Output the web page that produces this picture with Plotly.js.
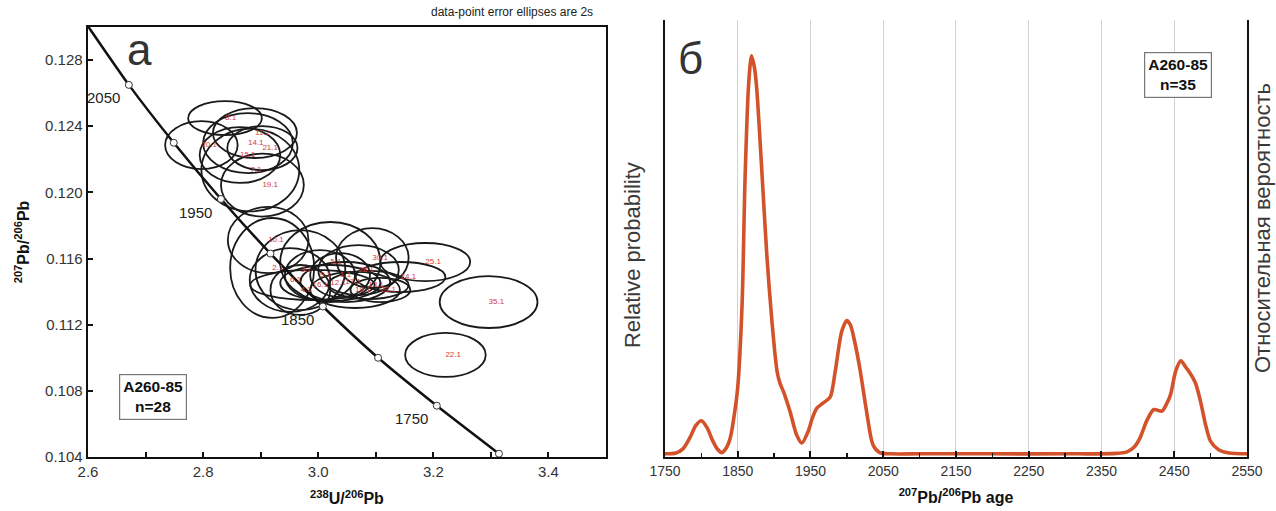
<!DOCTYPE html>
<html>
<head>
<meta charset="utf-8">
<script src="https://cdn.plot.ly/plotly-3.0.1.min.js"></script>
<style>html,body{margin:0;padding:0;background:#fff;}#chart{width:1276px;height:511px;}</style>
</head>
<body>
<div id="chart"></div>
<script>
// ---- Panel а: Tera-Wasserburg concordia, zircon spots (2s error ellipses) ----
const spotLabels = ['8.1','20.1','11.1','14.1','21.1','15.1','7.1','19.1',
  '10.1','2.1','3.1','5.1','30.1','16.1','12.1','17.1','18.1','13.1','9.1','4.1',
  '25.1','24.1','35.1','22.1','6.1','1.1','23.1','26.1'];
const spotU238Pb206 = [2.838,2.797,2.890,2.878,2.903,2.864,2.882,2.903,
  2.913,2.920,2.969,3.021,3.094,2.990,3.021,3.047,3.064,3.087,3.003,2.969,
  3.186,3.143,3.296,3.221,2.951,3.038,3.108,3.070];
const spotPb207Pb206 = [0.12449,0.12286,0.12359,0.12298,0.12268,0.12226,0.12135,0.12044,
  0.11712,0.11543,0.11530,0.11579,0.11603,0.11440,0.11452,0.11458,0.11410,0.11440,0.11500,0.11410,
  0.11579,0.11488,0.11337,0.11017,0.11470,0.11500,0.11410,0.11530];
const spotErrX = [0.064,0.063,0.073,0.078,0.061,0.070,0.085,0.072,
  0.070,0.073,0.078,0.087,0.063,0.108,0.087,0.078,0.078,0.070,0.061,0.052,
  0.078,0.078,0.085,0.070,0.070,0.052,0.052,0.070];
const spotErrY = [0.00103,0.00145,0.00151,0.00181,0.00133,0.00169,0.00250,0.00190,
  0.00200,0.00302,0.00242,0.00242,0.00181,0.00091,0.00109,0.00121,0.00109,0.00085,0.00151,0.00151,
  0.00115,0.00091,0.00157,0.00133,0.00193,0.00133,0.00073,0.00151];

const concordiaAge = [2100,2050,2000,1950,1900,1850,1800,1750,1700];
const concordiaX   = [2.597,2.671,2.749,2.831,2.917,3.008,3.104,3.206,3.314];
const concordiaY   = [0.1302,0.1265,0.1230,0.1196,0.1163,0.1131,0.1100,0.1071,0.1042];
const markedAges   = [2050,2000,1950,1900,1850,1800,1750,1700];
const labelledAges = [2050,1950,1850,1750];

// ---- Panel б: relative probability of 207Pb/206Pb ages ----
const pdfAge = [1750,1765,1775,1785,1792,1800,1808,1815,1822,1828,1835,1840,1846,1850,1856,1860,1865,1869,1873,1876,1883,1890,1897,1904,1908,1913,1922,1931,1938,1947,1953,1959,1968,1977,1984,1993,2000,2005,2010,2018,2027,2036,2045,2060,2100,2200,2300,2370,2385,2395,2403,2412,2422,2433,2440,2445,2452,2459,2465,2470,2479,2486,2493,2500,2511,2525,2550];
const pdfProb = [0.003,0.005,0.016,0.046,0.073,0.086,0.068,0.038,0.015,0.006,0.02,0.045,0.11,0.17,0.38,0.69,0.93,1.0,0.97,0.92,0.715,0.50,0.335,0.21,0.18,0.158,0.108,0.05,0.03,0.06,0.095,0.118,0.131,0.145,0.21,0.31,0.337,0.325,0.29,0.215,0.11,0.025,0.006,0.003,0.003,0.003,0.003,0.004,0.008,0.02,0.043,0.085,0.114,0.11,0.13,0.152,0.21,0.236,0.222,0.21,0.181,0.135,0.076,0.034,0.013,0.005,0.003];

const xTicksPdf = [1750,1850,1950,2050,2150,2250,2350,2450,2550];

const FONT = 'Liberation Sans, Arial, Helvetica, sans-serif';
const markIdx = markedAges.map(a => concordiaAge.indexOf(a));

const traces = [
  { x: concordiaX, y: concordiaY, xaxis:'x', yaxis:'y', mode:'lines', type:'scatter',
    line:{color:'#111', width:2.5, shape:'spline', smoothing:0.6}, hoverinfo:'skip', showlegend:false },
  { x: markIdx.map(i=>concordiaX[i]), y: markIdx.map(i=>concordiaY[i]),
    xaxis:'x', yaxis:'y', mode:'markers', type:'scatter', cliponaxis:false,
    marker:{size:7, color:'#fff', line:{color:'#333', width:1}}, showlegend:false },
  { x: spotU238Pb206, y: spotPb207Pb206, text: spotLabels, xaxis:'x', yaxis:'y',
    mode:'text', type:'scatter', textposition:'middle right',
    textfont:{family:FONT, size:8, color:'#d23c3c'}, showlegend:false },
  { x: pdfAge, y: pdfProb, xaxis:'x2', yaxis:'y2', mode:'lines', type:'scatter',
    line:{color:'#d4522a', width:3.6, shape:'spline', smoothing:0.8}, showlegend:false }
];

const shapes = spotLabels.map((s,i)=>({
  type:'circle', xref:'x', yref:'y', layer:'below',
  x0: spotU238Pb206[i]-spotErrX[i], x1: spotU238Pb206[i]+spotErrX[i],
  y0: spotPb207Pb206[i]-spotErrY[i], y1: spotPb207Pb206[i]+spotErrY[i],
  line:{color:'#1a1a1a', width:1.8}, fillcolor:'rgba(0,0,0,0)'
}));

const annotations = [
  ...labelledAges.map(a=>{const i=concordiaAge.indexOf(a); return {
    x: concordiaX[i], y: concordiaY[i], xref:'x', yref:'y', text:String(a), showarrow:false,
    xshift:-25, yshift:-13, xanchor:'center', yanchor:'middle', font:{family:FONT, size:15, color:'#222'} };}),
  { xref:'x domain', yref:'y domain', x:0.1, y:0.948, xanchor:'center', yanchor:'middle', text:'а', showarrow:false,
    font:{family:FONT, size:44, color:'#333'} },
  { xref:'x domain', yref:'y domain', x:0.979, y:1.034, xanchor:'right', yanchor:'middle', text:'data-point error ellipses are 2s',
    showarrow:false, font:{family:FONT, size:12, color:'#222'} },
  { xref:'x domain', yref:'y domain', x:0.1255, y:0.1395, xanchor:'center', yanchor:'middle', text:'<b>A260-85<br>n=28</b>', showarrow:false,
    font:{family:FONT, size:15.5, color:'#111'}, bordercolor:'#777', borderwidth:1.2, borderpad:3, bgcolor:'#fff' },
  { xref:'x2 domain', yref:'y2 domain', x:0.043, y:0.913, xanchor:'center', yanchor:'middle', text:'б', showarrow:false,
    font:{family:FONT, size:44, color:'#333'} },
  { xref:'x2 domain', yref:'y2 domain', x:0.8814, y:0.874, xanchor:'center', yanchor:'middle', text:'<b>A260-85<br>n=35</b>', showarrow:false,
    font:{family:FONT, size:15.5, color:'#111'}, bordercolor:'#777', borderwidth:1.2, borderpad:3, bgcolor:'#fff' },
  { xref:'x2 domain', yref:'y2 domain', x:-0.0567, y:0.462, xanchor:'center', yanchor:'middle', text:'Relative probability', textangle:-90,
    showarrow:false, font:{family:FONT, size:22, color:'#3a3a3a'} },
  { xref:'x2 domain', yref:'y2 domain', x:1.0258, y:0.524, xanchor:'center', yanchor:'middle', text:'Относительная вероятность', textangle:-90,
    showarrow:false, font:{family:FONT, size:22, color:'#3a3a3a'} }
];

const layout = {
  width:1276, height:511,
  margin:{l:88, r:29, t:20, b:54},
  paper_bgcolor:'#fff', plot_bgcolor:'#fff',
  font:{family:FONT, color:'#222'},
  showlegend:false,
  xaxis:{ domain:[0,0.44694], range:[2.6,3.5], showline:true, mirror:true, linecolor:'#111', linewidth:2.4,
    showgrid:false, zeroline:false, ticks:'inside', ticklen:5, tickwidth:2, tickcolor:'#111',
    tick0:2.6, dtick:0.2, tickformat:'.1f', tickfont:{family:FONT, size:15, color:'#333'},
    minor:{dtick:0.1, ticks:'inside', ticklen:5, tickwidth:2, tickcolor:'#111', showgrid:false},
    title:{text:'<b><sup>238</sup>U/<sup>206</sup>Pb</b>', font:{family:FONT, size:16, color:'#111'}, standoff:14} },
  yaxis:{ domain:[0,0.98398], range:[0.104,0.130], showline:true, mirror:true, linecolor:'#111', linewidth:2.4,
    showgrid:false, zeroline:false, ticks:'inside', ticklen:5, tickwidth:2, tickcolor:'#111',
    tick0:0.104, dtick:0.004, tickformat:'.3f', tickfont:{family:FONT, size:15, color:'#333'},
    title:{text:'<b><sup>207</sup>Pb/<sup>206</sup>Pb</b>', font:{family:FONT, size:16, color:'#111'}, standoff:12} },
  xaxis2:{ domain:[0.49784,1], anchor:'y2', range:[1750,2550], showline:true, linecolor:'#111', linewidth:2.4,
    showgrid:true, gridcolor:'#d2d2d2', gridwidth:1, zeroline:false,
    tickvals:xTicksPdf, ticks:'inside', ticklen:6, tickwidth:2, tickcolor:'#111',
    tickfont:{family:FONT, size:14, color:'#333'},
    minor:{dtick:50, tick0:1750, ticks:'inside', ticklen:4, tickwidth:1.5, tickcolor:'#111', showgrid:false},
    title:{text:'<b><sup>207</sup>Pb/<sup>206</sup>Pb age</b>', font:{family:FONT, size:16, color:'#111'}, standoff:14} },
  yaxis2:{ domain:[0,1], anchor:'x2', range:[-0.005,1.09], showline:true, mirror:true, linecolor:'#111', linewidth:2.4,
    showgrid:false, zeroline:false, showticklabels:false, ticks:'' },
  shapes: shapes,
  annotations: annotations
};

Plotly.newPlot('chart', traces, layout, {displayModeBar:false, staticPlot:true});
</script>
</body>
</html>
